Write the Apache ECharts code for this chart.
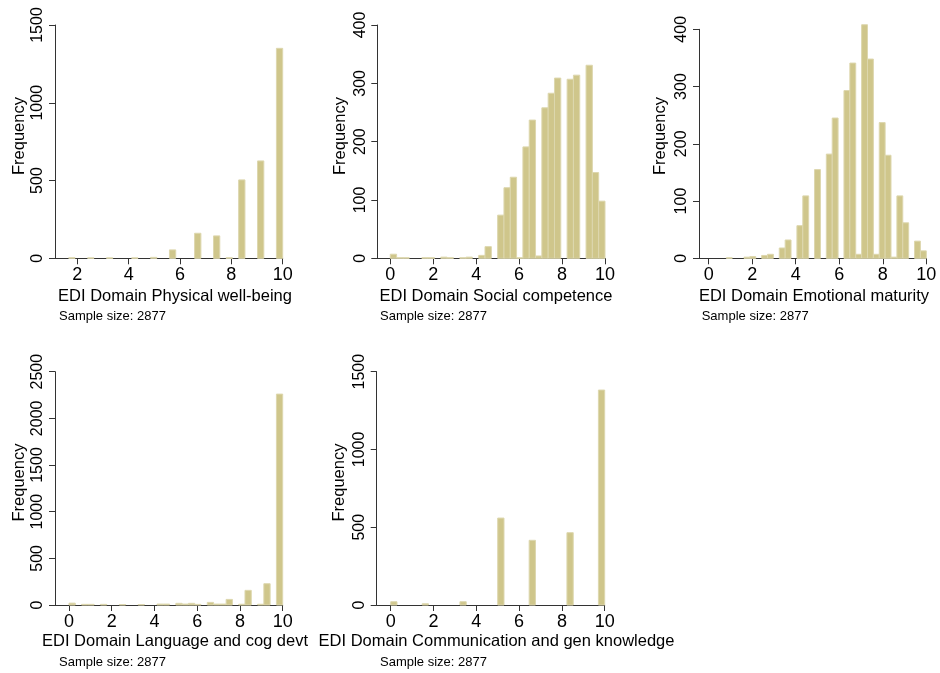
<!DOCTYPE html>
<html><head><meta charset="utf-8">
<script src="https://cdn.jsdelivr.net/npm/echarts@6/dist/echarts.min.js"></script>
<style>html,body{margin:0;padding:0;background:#fff}#c{width:940px;height:673px}</style>
</head><body><div id="c"></div>
<script>
// ---------- data ----------
const panelTitles = ['EDI Domain Physical well-being', 'EDI Domain Social competence', 'EDI Domain Emotional maturity', 'EDI Domain Language and cog devt', 'EDI Domain Communication and gen knowledge'];
const sampleNote = 'Sample size: 2877';
const yTitle = 'Frequency';

// histogram bin ranges [min, max] and bin counts
const physicalRange = [1.667, 10];
const physicalCounts = [4,0,0,3,0,0,3,0,0,0,3,0,0,6,0,0,54,0,0,0,161,0,0,144,0,4,0,504,0,0,626,0,0,1350];
const socialRange = [0, 10];
const socialCounts = [7,1,1,0,0,1,1,0,2,1,0,1,2,0,5,20,0,74,121,139,1,191,237,4,258,283,309,0,307,314,0,331,147,98];
const emotionalRange = [0, 10];
const emotionalCounts = [0,0,0,1,0,0,2,3,0,5,7,0,18,32,0,57,109,0,155,0,182,245,0,293,341,7,408,348,7,237,180,2,109,62,0,30,13];
const languageRange = [0, 10];
const languageCounts = [20,0,7,7,0,7,0,0,5,0,0,5,0,0,10,10,0,18,10,18,7,0,28,10,10,60,0,8,157,0,8,228,0,2260];
const commRange = [0, 10];
const commCounts = [21,0,0,0,0,8,0,0,0,0,0,21,0,0,0,0,0,559,0,0,0,0,416,0,0,0,0,0,465,0,0,0,0,1382];

// tick labels
const xTicksPhysical = [2,4,6,8,10];
const xTicks = [0,2,4,6,8,10];
const yTicks1500 = [0,500,1000,1500];
const yTicks400 = [0,100,200,300,400];
const yTicks2500 = [0,500,1000,1500,2000,2500];

// ---------- layout ----------
const FONT = 'Liberation Sans, Arial, Helvetica, sans-serif';
const panels = [
  {range: physicalRange, counts: physicalCounts, xTicks: xTicksPhysical, yTicks: yTicks1500, grid:{left:55, top:25, width:227.7, height:233.3}, xmin:1.131, ymax:1500},
  {range: socialRange, counts: socialCounts, xTicks: xTicks, yTicks: yTicks400, grid:{left:377.3, top:25, width:227.7, height:233.3}, xmin:-0.605, ymax:400},
  {range: emotionalRange, counts: emotionalCounts, xTicks: xTicks, yTicks: yTicks400, grid:{left:699, top:29.3, width:227.3, height:229}, xmin:-0.446, ymax:400},
  {range: languageRange, counts: languageCounts, xTicks: xTicks, yTicks: yTicks2500, grid:{left:55, top:371.7, width:227.7, height:233.3}, xmin:-0.655, ymax:2500},
  {range: commRange, counts: commCounts, xTicks: xTicks, yTicks: yTicks1500, grid:{left:376.7, top:371.7, width:228, height:233.3}, xmin:-0.654, ymax:1500}
];
const freqPos = [[19,136],[340,136],[660.5,136],[19,482.5],[339,482.5]];
const titlePos = [[175,296],[496,296],[814,296],[175,641.7],[496.5,641.7]];
const notePos = [[59,316.7],[380,316.7],[701.7,316.7],[59,662.7],[380,662.7]];

function binData(range, counts) {
  const w = (range[1] - range[0]) / counts.length;
  return counts.map((c, i) => [range[0] + i * w, range[0] + (i + 1) * w, c]);
}

function renderBar(params, api) {
  const c = api.value(2);
  if (!c) return null;
  const p0 = api.coord([api.value(0), 0]);
  const p1 = api.coord([api.value(1), c]);
  return {
    type: 'rect',
    shape: {x: p0[0], y: p1[1], width: p1[0] - p0[0], height: p0[1] - p1[1]},
    style: {fill: '#cfc68b', stroke: '#ddd7ae', lineWidth: 1}
  };
}

const axisLineStyle = {color: '#333', width: 1};
const plain = v => String(v);
const option = {
  animation: false,
  backgroundColor: '#fff',
  grid: panels.map(p => Object.assign({containLabel: false}, p.grid)),
  xAxis: panels.map((p, i) => ({
    type: 'value', gridIndex: i, min: p.xmin, max: 10,
    axisLine: {show: true, onZero: false, lineStyle: axisLineStyle},
    axisTick: {show: true, length: 6, lineStyle: axisLineStyle, customValues: p.xTicks},
    axisLabel: {show: true, margin: 8, color: '#000', fontSize: 18, fontFamily: FONT, customValues: p.xTicks, formatter: plain},
    splitLine: {show: false}
  })),
  yAxis: panels.map((p, i) => ({
    type: 'value', gridIndex: i, min: 0, max: p.ymax,
    axisLine: {show: true, onZero: false, lineStyle: axisLineStyle},
    axisTick: {show: true, length: 6, lineStyle: axisLineStyle, customValues: p.yTicks},
    axisLabel: {show: true, rotate: 90, margin: 9, color: '#000', fontSize: 16, fontFamily: FONT, customValues: p.yTicks, formatter: plain},
    splitLine: {show: false}
  })),
  series: panels.map((p, i) => ({
    type: 'custom', xAxisIndex: i, yAxisIndex: i, clip: false,
    renderItem: renderBar,
    encode: {x: [0, 1], y: 2},
    data: binData(p.range, p.counts)
  })),
  graphic: [].concat(
    freqPos.map(pos => ({type: 'text', x: pos[0], y: pos[1], rotation: Math.PI / 2,
      style: {text: yTitle, fill: '#000', font: '16.5px ' + FONT, textAlign: 'center', textVerticalAlign: 'middle', align: 'center', verticalAlign: 'middle'}})),
    titlePos.map((pos, i) => ({type: 'text', x: pos[0], y: pos[1],
      style: {text: panelTitles[i], fill: '#000', font: '16.5px ' + FONT, textAlign: 'center', textVerticalAlign: 'middle', align: 'center', verticalAlign: 'middle'}})),
    notePos.map(pos => ({type: 'text', x: pos[0], y: pos[1],
      style: {text: sampleNote, fill: '#000', font: '13px ' + FONT, textAlign: 'left', textVerticalAlign: 'middle', align: 'left', verticalAlign: 'middle'}}))
  )
};
const chart = echarts.init(document.getElementById('c'), null, {renderer: 'canvas'});
chart.setOption(option);
</script>
</body></html>
